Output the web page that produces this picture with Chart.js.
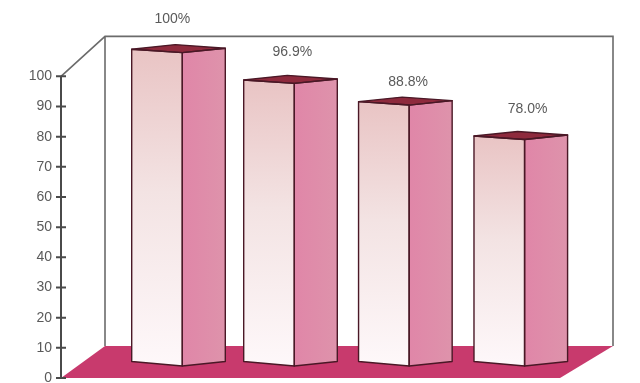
<!DOCTYPE html>
<html>
<head>
<meta charset="utf-8">
<style>
  html, body { margin: 0; padding: 0; background: #fff; }
  canvas { display: block; }
</style>
<script src="https://cdn.jsdelivr.net/npm/chart.js@4"></script>
</head>
<body>
<canvas id="chart" width="640" height="383"></canvas>
<script>
// ── DATA ──────────────────────────────────────────────────────────────────
const valueLabels = ['100%', '96.9%', '88.8%', '78.0%'];
const barSlots    = [1, 1.98, 2.985, 3.995];      // the bars are not evenly spaced
const barTops     = [109.0, 98.8, 91.6, 80.2];
const barBase     = 4;
const axisTicks   = [0, 10, 20, 30, 40, 50, 60, 70, 80, 90, 100];

// ── STYLE ─────────────────────────────────────────────────────────────────
const FONT = '"Liberation Sans", Arial, sans-serif';
const TEXT = '#5a5a5a';
const EDGE = '#4a1826';
const DEPTH_X = 44, DEPTH_BOTTOM = 32, DEPTH_TOP = 40;   // wall offset from the axis
const FRONT_SKEW = 3.4, SIDE_W = 43, SIDE_RISE = 4.5;    // bar box shape
const labelNudgeX = [-10, -2, -1, 3];
const labelNudgeY = [-33, -31, -23, -30];

function poly(ctx, pts) {
  ctx.beginPath();
  pts.forEach((p, i) => i ? ctx.lineTo(p[0], p[1]) : ctx.moveTo(p[0], p[1]));
  ctx.closePath();
}

function frontGradient(c) {
  const { ctx, chartArea, scales } = c.chart;
  if (!chartArea) return '#f3e4e4';
  const top = scales.y.getPixelForValue(barTops[c.dataIndex]);
  const g = ctx.createLinearGradient(0, top, 0, scales.y.getPixelForValue(barBase));
  g.addColorStop(0, '#e9c4c4');
  g.addColorStop(0.45, '#f3e3e3');
  g.addColorStop(1, '#fef8fa');
  return g;
}

// ── 3D BOX PLUGIN ─────────────────────────────────────────────────────────
const boxes = {
  id: 'boxes',

  // wall, floor and the axis go under the bars
  beforeDatasetsDraw(chart) {
    const { ctx, chartArea: a, scales: { y } } = chart;
    const y0 = y.getPixelForValue(0), y100 = y.getPixelForValue(100);
    const backL = a.left + DEPTH_X, backB = y0 - DEPTH_BOTTOM, backT = y100 - DEPTH_TOP;
    ctx.save();

    poly(ctx, [[a.left, y0], [backL, backB], [a.right, backB], [a.right - 53, y0]]);
    ctx.fillStyle = '#c83a6d';
    ctx.fill();

    ctx.strokeStyle = '#6b6b6b';
    ctx.lineWidth = 1.6;
    ctx.beginPath();
    ctx.moveTo(a.left, y100);
    ctx.lineTo(backL, backT);
    ctx.lineTo(a.right, backT);
    ctx.lineTo(a.right, backB);
    ctx.moveTo(backL, backT);
    ctx.lineTo(backL, backB);
    ctx.stroke();

    ctx.strokeStyle = '#4a4a4a';
    ctx.lineWidth = 2;
    ctx.beginPath();
    ctx.moveTo(a.left, y0);
    ctx.lineTo(a.left, y100);
    axisTicks.forEach(v => {
      const t = y.getPixelForValue(v);
      ctx.moveTo(a.left - 5, t);
      ctx.lineTo(a.left + 5, t);
    });
    ctx.stroke();
    ctx.restore();
  },

  // the library paints plain rectangles, clip them to the skewed front face
  beforeDatasetDraw(chart, args) {
    const { ctx } = chart;
    ctx.save();
    ctx.beginPath();
    args.meta.data.forEach(b => {
      const l = b.x - b.width / 2, r = b.x + b.width / 2;
      ctx.moveTo(l, b.y);
      ctx.lineTo(r, b.y + FRONT_SKEW);
      ctx.lineTo(r, b.base);
      ctx.lineTo(l, b.base - FRONT_SKEW - 1);
      ctx.closePath();
    });
    ctx.clip();
  },

  afterDatasetDraw(chart, args) {
    const { ctx } = chart;
    ctx.restore();
    ctx.save();
    ctx.lineJoin = 'round';
    args.meta.data.forEach((b, i) => {
      const l = b.x - b.width / 2, r = b.x + b.width / 2, s = r + SIDE_W;
      const cornerT = b.y + FRONT_SKEW, sideT = b.y - 1, sideB = b.base - SIDE_RISE;
      const front = [[l, b.y], [r, cornerT], [r, b.base], [l, b.base - FRONT_SKEW - 1]];
      const side  = [[r, cornerT], [s, sideT], [s, sideB], [r, b.base]];
      const top   = [[l, b.y], [r - 7, b.y - 4.6], [s, sideT], [r, cornerT]];

      const g = ctx.createLinearGradient(r, 0, s, 0);
      g.addColorStop(0, '#e086a8');
      g.addColorStop(1, '#de93ab');
      poly(ctx, side);
      ctx.fillStyle = g;
      ctx.fill();

      poly(ctx, top);
      ctx.fillStyle = '#8e2a3d';
      ctx.fill();

      ctx.strokeStyle = EDGE;
      ctx.lineWidth = 1.4;
      poly(ctx, front); ctx.stroke();
      poly(ctx, side);  ctx.stroke();
      poly(ctx, top);   ctx.stroke();

      ctx.fillStyle = TEXT;
      ctx.font = '14px ' + FONT;
      ctx.textAlign = 'center';
      ctx.textBaseline = 'middle';
      ctx.fillText(valueLabels[i], r + labelNudgeX[i], cornerT + labelNudgeY[i]);
    });
    ctx.restore();
  },
};

// ── CHART ─────────────────────────────────────────────────────────────────
new Chart(document.getElementById('chart'), {
  type: 'bar',
  data: {
    datasets: [{
      data: barSlots.map((x, i) => ({ x, y: [barBase, barTops[i]] })),
      backgroundColor: frontGradient,
      borderWidth: 0,
      barThickness: 50.6,
    }],
  },
  options: {
    responsive: false,
    animation: false,
    layout: { padding: { top: 16, right: 27, bottom: 5, left: 0 } },
    plugins: { legend: { display: false }, tooltip: { enabled: false } },
    scales: {
      x: { type: 'linear', display: false, offset: false, min: 0.16, max: 4.99 },
      y: {
        min: 0,
        max: 120,
        afterBuildTicks: s => { s.ticks = axisTicks.map(value => ({ value })); },
        afterFit: s => { s.width = 61; s.paddingTop = 0; s.paddingBottom = 0; },
        border: { display: false },
        grid: { display: false, drawTicks: false },
        ticks: { color: TEXT, padding: 9, autoSkip: false, font: { family: FONT, size: 14 } },
      },
    },
  },
  plugins: [boxes],
});
</script>
</body>
</html>
